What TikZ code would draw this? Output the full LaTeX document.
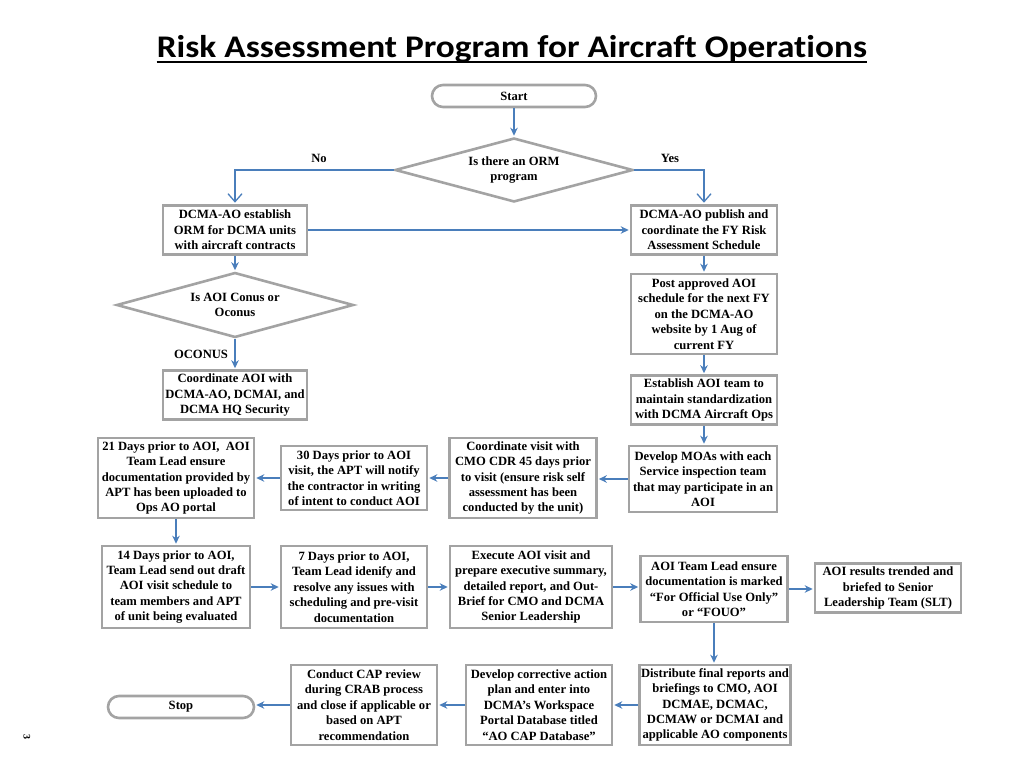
\documentclass[tikz,border=0pt]{standalone}
\usepackage{fontspec}
\setmainfont{Liberation Serif}
\newfontfamily\titlefont[Ligatures=NoCommon]{Carlito}
\usetikzlibrary{shapes.geometric,arrows.meta}
\definecolor{boxgray}{HTML}{A3A3A3}
\definecolor{arrblue}{HTML}{4A7EBB}
\tikzset{
  box/.style={draw=boxgray, line width=2.6pt, fill=white, align=center, inner sep=0pt,
    font=\fontsize{12.6}{15.4}\selectfont\bfseries},
  term/.style={box, rounded corners=11pt, minimum height=22pt},
  dia/.style={box, diamond, aspect=3.7},
  arr/.style={draw=arrblue, line width=1.3pt, -{Stealth[length=8pt,width=7.5pt]}, shorten >=1pt},
  arrv/.style={draw=arrblue, line width=1.3pt, -{Straight Barb[length=8pt,width=14pt,line width=1.3pt]}, shorten >=1.5pt},
  lab/.style={font=\fontsize{12.6}{15}\selectfont\bfseries, inner sep=0pt}
}
\begin{document}
\begin{tikzpicture}[x=1pt,y=-1pt]
\useasboundingbox (0,0) rectangle (1024,768);
\node[font=\titlefont\fontsize{31.5}{34}\selectfont\bfseries, inner sep=0pt, anchor=base, xscale=1.12] (title) at (512,57) {Risk Assessment Program for Aircraft Operations};
\draw[line width=2.4pt] ([yshift=-5pt]title.base west) -- ([yshift=-5pt]title.base east);

\node[term, minimum width=164pt] (start) at (514,96) {Start};
\node[dia, minimum width=238pt, minimum height=64pt] (d1) at (514,170) {Is there an ORM\\program};
\node[lab] (no) at (319,158) {No};
\node[lab] (yes) at (670,158) {Yes};

\node[box, minimum width=144pt, minimum height=49pt] (a) at (235,230) {DCMA-AO establish\\ORM for DCMA units\\with aircraft contracts};
\node[box, minimum width=146pt, minimum height=49pt] (b) at (704,230) {DCMA-AO publish and\\coordinate the FY Risk\\Assessment Schedule};

\node[dia, minimum width=237pt, minimum height=65pt] (d2) at (235,305) {Is AOI Conus or\\Oconus};
\node[lab] (oconus) at (201,354) {OCONUS};
\node[box, minimum width=144pt, minimum height=49pt] (c) at (235,395) {Coordinate AOI with\\DCMA-AO, DCMAI, and\\DCMA HQ Security};

\node[box, minimum width=146pt, minimum height=80pt] (p) at (704,314) {Post approved AOI\\schedule for the next FY\\on the DCMA-AO\\website by 1 Aug of\\current FY};
\node[box, minimum width=146pt, minimum height=49pt] (e) at (704,400) {Establish AOI team to\\maintain standardization\\with DCMA Aircraft Ops};
\node[box, minimum width=148pt, minimum height=66pt] (m) at (703,479) {Develop MOAs with each\\Service inspection team\\that may participate in an\\AOI};

\node[box, minimum width=147pt, minimum height=80pt] (cv) at (523,478) {Coordinate visit with\\CMO CDR 45 days prior\\to visit (ensure risk self\\assessment has been\\conducted by the unit)};
\node[box, minimum width=146pt, minimum height=64pt] (t30) at (354,478) {30 Days prior to AOI\\visit, the APT will notify\\the contractor in writing\\of intent to conduct AOI};
\node[box, minimum width=156pt, minimum height=80pt] (t21) at (176,478) {21 Days prior to AOI,\ \ AOI\\Team Lead ensure\\documentation provided by\\APT has been uploaded to\\Ops AO portal};

\node[box, minimum width=148pt, minimum height=82pt] (t14) at (176,587) {14 Days prior to AOI,\\Team Lead send out draft\\AOI visit schedule to\\team members and APT\\of unit being evaluated};
\node[box, minimum width=146pt, minimum height=82pt] (t7) at (354,587) {7 Days prior to AOI,\\Team Lead idenify and\\resolve any issues with\\scheduling and pre-visit\\documentation};
\node[box, minimum width=162pt, minimum height=82pt] (ex) at (531,587) {Execute AOI visit and\\prepare executive summary,\\detailed report, and Out-\\Brief for CMO and DCMA\\Senior Leadership};
\node[box, minimum width=147pt, minimum height=66pt] (tl) at (714,589) {AOI Team Lead ensure\\documentation is marked\\``For Official Use Only''\\or ``FOUO''};
\node[box, minimum width=146pt, minimum height=49pt] (slt) at (888,588) {AOI results trended and\\briefed to Senior\\Leadership Team (SLT)};

\node[box, minimum width=151pt, minimum height=80pt] (dist) at (715,705) {Distribute final reports and\\briefings to CMO, AOI\\DCMAE, DCMAC,\\DCMAW or DCMAI and\\applicable AO components};
\node[box, minimum width=146pt, minimum height=80pt] (cap) at (539,705) {Develop corrective action\\plan and enter into\\DCMA's Workspace\\Portal Database titled\\``AO CAP Database''};
\node[box, minimum width=146pt, minimum height=80pt] (cr) at (364,705) {Conduct CAP review\\during CRAB process\\and close if applicable or\\based on APT\\recommendation};
\node[term, minimum width=146pt] (stop) at (181,707) {Stop};

\node[font=\fontsize{10}{12}\selectfont\bfseries, rotate=-90, inner sep=0pt] (pg) at (27,737) {3};

\draw[arr] (start) -- (d1);
\draw[arrv] (d1.west) -| (a.north);
\draw[arrv] (d1.east) -| (b.north);
\draw[arr] (a) -- (b);
\draw[arr] (a) -- (d2);
\draw[arr] (d2) -- (c);
\draw[arr] (b) -- (p);
\draw[arr] (p) -- (e);
\draw[arr] (e.south) -- (e.south |- m.north);
\draw[arr] (m.west) -- (m.west -| cv.east);
\draw[arr] (cv.west) -- (cv.west -| t30.east);
\draw[arr] (t30.west) -- (t30.west -| t21.east);
\draw[arr] (t21) -- (t14);
\draw[arr] (t14.east) -- (t14.east -| t7.west);
\draw[arr] (t7.east) -- (t7.east -| ex.west);
\draw[arr] (ex.east) -- (ex.east -| tl.west);
\draw[arr] (tl.east) -- (tl.east -| slt.west);
\draw[arr] (tl.south) -- (tl.south |- dist.north);
\draw[arr] (dist.west) -- (dist.west -| cap.east);
\draw[arr] (cap.west) -- (cap.west -| cr.east);
\draw[arr] (cr.west) -- (cr.west -| stop.east);
\end{tikzpicture}
\end{document}
